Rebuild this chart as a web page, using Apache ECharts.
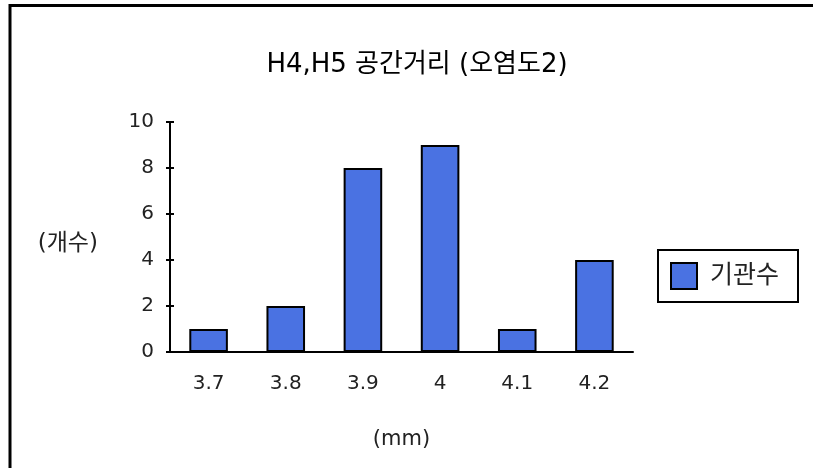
<!DOCTYPE html>
<html><head><meta charset="utf-8">
<script src="https://cdn.jsdelivr.net/npm/echarts@6/dist/echarts.min.js"></script>
<style>html,body{margin:0;padding:0;background:#fff}#c{width:813px;height:468px}</style>
</head><body><div id="c"></div>
<script>
var categories = ['3.7','3.8','3.9','4','4.1','4.2'];
var counts = [1, 2, 8, 9, 1, 4];
var yTicks = [0, 2, 4, 6, 8, 10];
var seriesName = '기관수';
var titleText = 'H4,H5 공간거리 (오염도2)';
var font = '"DejaVu Sans", "Noto Sans CJK KR", sans-serif';
var chart = echarts.init(document.getElementById('c'));
chart.setOption({
  animation: false,
  backgroundColor: '#fff',
  title: { text: titleText, left: 412, top: 47, textAlign: 'center',
    textStyle: { fontFamily: font, fontSize: 26, fontWeight: 'normal', color: '#000' } },
  legend: { left: 658, top: 250, padding: [12, 19, 12, 12],
    borderColor: '#000', borderWidth: 2, itemWidth: 26, itemHeight: 26, itemGap: 10,
    textStyle: { fontFamily: font, fontSize: 25, color: '#222', padding: [0,0,0,8] },
    data: [{ name: seriesName, icon: 'rect' }] },
  grid: { left: 170, top: 122, width: 463, height: 230 },
  xAxis: { type: 'category', data: categories,
    name: '(mm)', nameLocation: 'middle', nameGap: 77,
    nameTextStyle: { fontFamily: font, fontSize: 21, color: '#222' },
    axisLine: { lineStyle: { color: '#000', width: 2 } },
    axisTick: { show: false },
    axisLabel: { margin: 22, fontFamily: font, fontSize: 20, color: '#222' } },
  yAxis: [{ type: 'value', min: 0, max: 10, interval: 2,
    name: '(개수)', nameLocation: 'middle', nameGap: 72, nameRotate: 0,
    nameTextStyle: { fontFamily: font, fontSize: 23, color: '#222', verticalAlign: 'top', lineHeight: 14 },
    axisLine: { show: true, lineStyle: { color: '#000', width: 2 } },
    axisTick: { show: true, length: 4, lineStyle: { color: '#000', width: 2 } },
    axisLabel: { margin: 16, fontFamily: font, fontSize: 20, color: '#222',
      formatter: function (v) { return yTicks.indexOf(v) >= 0 ? String(v) : ''; } },
    splitLine: { show: false } },
    { type: 'value', min: 0, max: 10, interval: 2, position: 'left',
    axisLine: { show: false }, axisLabel: { show: false }, splitLine: { show: false },
    axisTick: { show: true, inside: true, length: 4, lineStyle: { color: '#000', width: 2 } } }],
  series: [{ name: seriesName, type: 'bar', data: counts, barWidth: '50%',
    itemStyle: { color: '#4A72E2', borderColor: '#000', borderWidth: 2 } }],
  graphic: [
    { type: 'line', shape: { x1: 9, y1: 5.5, x2: 813, y2: 5.5 }, style: { stroke: '#000', lineWidth: 3 } },
    { type: 'line', shape: { x1: 10, y1: 4, x2: 10, y2: 468 }, style: { stroke: '#000', lineWidth: 3 } }
  ]
});
</script></body></html>
